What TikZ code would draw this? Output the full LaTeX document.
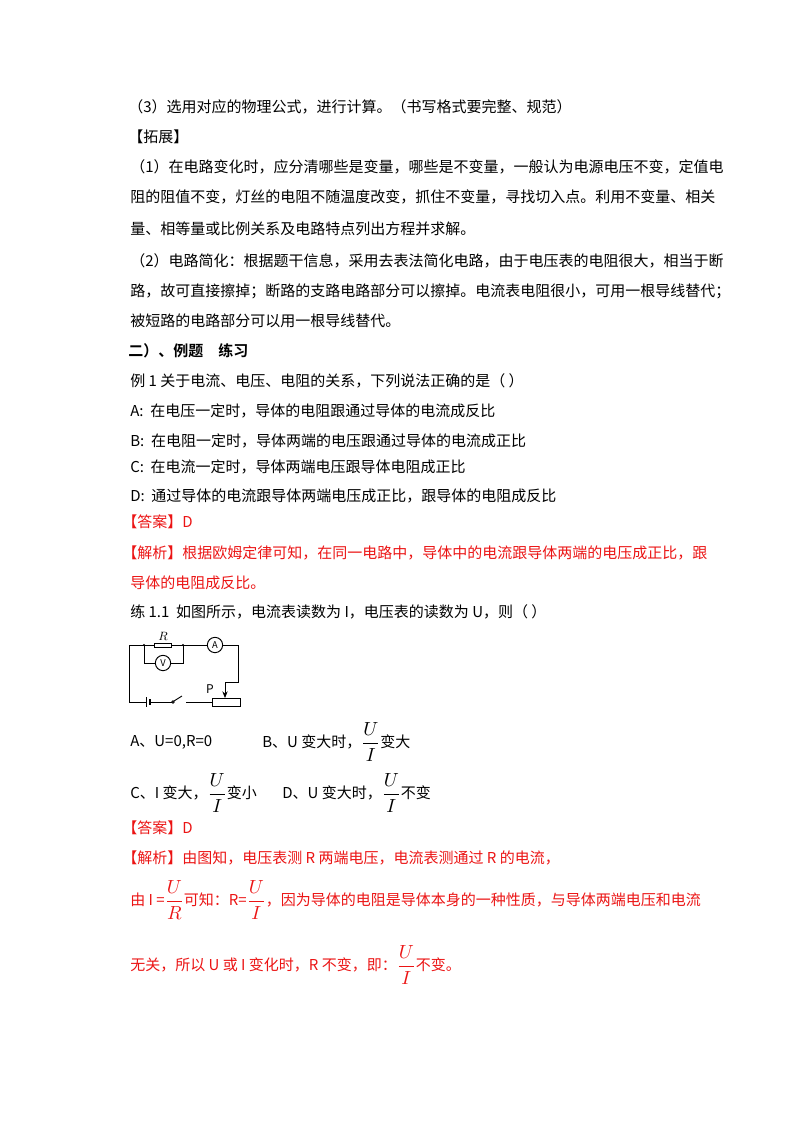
\documentclass[tikz,border=0pt]{standalone}
\usepackage{amsmath}
\usepackage{graphicx}
\usepackage{fontspec}
\setmainfont{Noto Sans CJK SC}
\newfontfamily\boldcjk{Noto Sans CJK SC Bold}
\usetikzlibrary{arrows.meta}
\definecolor{ansred}{RGB}{235,20,20}
\newcommand{\myfr}[2]{\raisebox{-0.1ex}{\scalebox{1.3}{$\dfrac{#1}{#2}$}}}
\begin{document}
\begin{tikzpicture}[x=0.75pt,y=-0.75pt,
  tx/.style={anchor=west,inner sep=0pt,font=\fontsize{11.25pt}{13pt}\selectfont},
  rtx/.style={tx,text=ansred},
  wire/.style={line width=0.7pt},
  meter/.style={circle,draw,line width=0.7pt,minimum size=11.5pt,inner sep=0pt,font=\fontsize{7pt}{8pt}\selectfont}]
\useasboundingbox (0,0) rectangle (800,1132);
\node[tx] (l1) at (128,107) {（3）选用对应的物理公式，进行计算。（书写格式要完整、规范）};
\node[tx] (l2) at (128,137) {【拓展】};
\node[tx] (l3) at (130,167) {（1）在电路变化时，应分清哪些是变量，哪些是不变量，一般认为电源电压不变，定值电};
\node[tx] (l4) at (130,197) {阻的阻值不变，灯丝的电阻不随温度改变，抓住不变量，寻找切入点。利用不变量、相关};
\node[tx] (l5) at (130,229) {量、相等量或比例关系及电路特点列出方程并求解。};
\node[tx] (l6) at (130,261) {（2）电路简化：根据题干信息，采用去表法简化电路，由于电压表的电阻很大，相当于断};
\node[tx] (l7) at (130,291) {路，故可直接擦掉；断路的支路电路部分可以擦掉。电流表电阻很小，可用一根导线替代；};
\node[tx] (l8) at (130,321) {被短路的电路部分可以用一根导线替代。};
\node[tx,font=\fontsize{11.25pt}{13pt}\selectfont\boldcjk] (l9) at (128,351) {二）、例题\quad 练习};
\node[tx] (l10) at (130,381) {例 1 关于电流、电压、电阻的关系，下列说法正确的是（ ）};
\node[tx] (l11) at (130,411) {A:\ \ 在电压一定时，导体的电阻跟通过导体的电流成反比};
\node[tx] (l12) at (130,441) {B:\ \ 在电阻一定时，导体两端的电压跟通过导体的电流成正比};
\node[tx] (l13) at (130,467) {C:\ \ 在电流一定时，导体两端电压跟导体电阻成正比};
\node[tx] (l14) at (130,496) {D:\ \ 通过导体的电流跟导体两端电压成正比，跟导体的电阻成反比};
\node[rtx] (l15) at (122,522) {【答案】D};
\node[rtx] (l16) at (122,553) {【解析】根据欧姆定律可知，在同一电路中，导体中的电流跟导体两端的电压成正比，跟};
\node[rtx] (l17) at (130,583) {导体的电阻成反比。};
\node[tx] (l18) at (130,612) {练 1.1\ \ 如图所示，电流表读数为 I，电压表的读数为 U，则（ ）};
% circuit
\coordinate (tl) at (129,645); \coordinate (j1) at (144,645); \coordinate (j2) at (183,645);
\coordinate (tr) at (238,645); \coordinate (bl) at (129,702);
\node[draw,line width=0.7pt,minimum width=13pt,minimum height=3pt,inner sep=0pt] (R) at (163,645) {};
\node[font=\fontsize{9pt}{10pt}\selectfont,inner sep=0pt] (Rl) at (163,636) {$R$};
\node[meter] (V) at (163,663) {V};
\node[meter] (A) at (215,645) {A};
\draw[wire] (tl) -- (R.west) (R.east) -- (A.west) (A.east) -- (tr) -- (238,682) -- (225,682);
\draw[wire] (j1) -- (144,663) -- (V.west) (V.east) -- (183,663) -- (j2);
\fill (j1) circle (1.2) (j2) circle (1.2);
\node[draw,line width=0.7pt,minimum width=21pt,minimum height=6pt,inner sep=0pt] (rh) at (226,702) {};
\draw[wire,-{Stealth[length=5pt,width=4pt]}] (225,682) -- (225,698);
\node[font=\fontsize{9pt}{10pt}\selectfont,inner sep=0pt] (P) at (210,689) {P};
\draw[wire] (tl) -- (bl) -- (146,702);
\draw[line width=0.7pt] (146,697) -- (146,707);
\draw[line width=1.4pt] (150,699) -- (150,705);
\draw[wire] (150,702) -- (172,702);
\draw[wire,fill=white] (173,702) circle (1.2);
\draw[wire] (174,701) -- (182,696);
\draw[wire] (186,702) -- (rh.west);
% options
\node[tx] (oa) at (130,742) {A、U=0,R=0};
\node[tx] (ob) at (262,742) {B、U 变大时，\myfr{U}{I}变大};
\node[tx] (oc) at (130,793) {C、I 变大，\myfr{U}{I}变小};
\node[tx] (od) at (282,793) {D、U 变大时，\myfr{U}{I}不变};
\node[rtx] (a2) at (122,828) {【答案】D};
\node[rtx] (s1) at (122,858) {【解析】由图知，电压表测 R 两端电压，电流表测通过 R 的电流，};
\node[rtx] (s2) at (130,900) {由 I =\myfr{U}{R}可知：R=\myfr{U}{I}，因为导体的电阻是导体本身的一种性质，与导体两端电压和电流};
\node[rtx] (s3) at (130,965) {无关，所以 U 或 I 变化时，R 不变，即：\myfr{U}{I}不变。};
\end{tikzpicture}
\end{document}
